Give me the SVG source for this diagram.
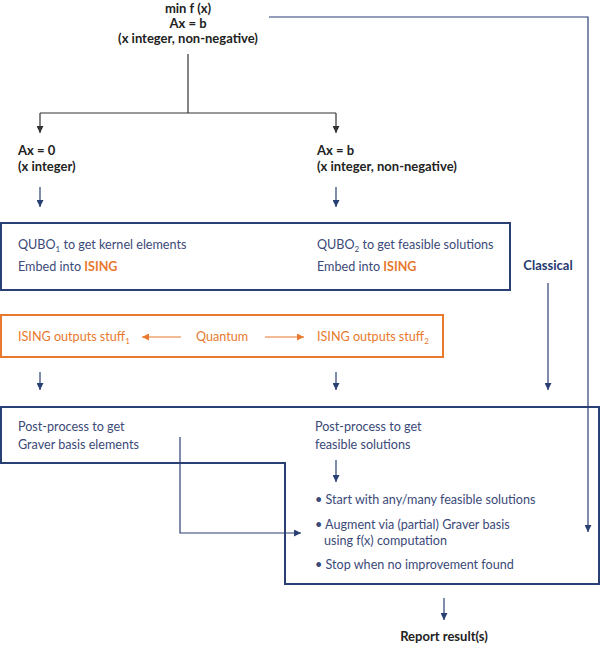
<svg xmlns="http://www.w3.org/2000/svg" width="600" height="648" viewBox="0 0 600 648">
<defs>
<style>
text{font-family:Lato,"Liberation Sans",sans-serif;font-size:12.6px}
.blk{fill:#222;font-weight:bold;font-size:13px}
.nv{fill:#3b4a78}
.nvb{fill:#253a6e;font-weight:bold;font-size:13px}
.or{fill:#e8792e}
.orb{fill:#e8792e;font-weight:bold}
.ln{fill:none;stroke:#2a3f73;stroke-width:1.2}
.lk{fill:none;stroke:#333;stroke-width:1.2}
.lo{fill:none;stroke:#e8792e;stroke-width:1.2}
.box{fill:none;stroke:#2a3f73;stroke-width:2}
.obox{fill:none;stroke:#e8792e;stroke-width:2}
</style>
<marker id="an" viewBox="0 0 10 10" refX="10" refY="5" markerWidth="7" markerHeight="7" markerUnits="userSpaceOnUse" orient="auto"><path d="M0,0L10,5L0,10z" fill="#2a3f73"/></marker>
<marker id="ak" viewBox="0 0 10 10" refX="10" refY="5" markerWidth="7" markerHeight="7" markerUnits="userSpaceOnUse" orient="auto"><path d="M0,0L10,5L0,10z" fill="#333"/></marker>
<marker id="ao" viewBox="0 0 10 10" refX="10" refY="5" markerWidth="7" markerHeight="7" markerUnits="userSpaceOnUse" orient="auto"><path d="M0,0L10,5L0,10z" fill="#e8792e"/></marker>
</defs>
<rect width="600" height="648" fill="#fff"/>

<g id="connectors">
<path class="lk" d="M188,54V113"/>
<path class="lk" d="M40,113H336"/>
<path class="lk" d="M40,113V133" marker-end="url(#ak)"/>
<path class="lk" d="M336,113V133" marker-end="url(#ak)"/>
<path class="ln" d="M269,17H588V532" marker-end="url(#an)"/>
<path class="ln" d="M40,187V207" marker-end="url(#an)"/>
<path class="ln" d="M336,187V207" marker-end="url(#an)"/>
<path class="ln" d="M548,283V390" marker-end="url(#an)"/>
<path class="lo" d="M181,337H142" marker-end="url(#ao)"/>
<path class="lo" d="M265,337H304" marker-end="url(#ao)"/>
<path class="ln" d="M40,372V390" marker-end="url(#an)"/>
<path class="ln" d="M336,372V390" marker-end="url(#an)"/>
<path class="ln" d="M180,437V533H301" marker-end="url(#an)"/>
<path class="ln" d="M336,460V482" marker-end="url(#an)"/>
<path class="ln" d="M444,598V620" marker-end="url(#an)"/>
</g>

<g id="problem">
<text class="blk" x="188" y="12.5" text-anchor="middle">min f (x)</text>
<text class="blk" x="188" y="27.5" text-anchor="middle">Ax = b</text>
<text class="blk" x="188" y="42.5" text-anchor="middle">(x integer, non-negative)</text>
</g>

<g id="kernel">
<text class="blk" x="18" y="155">Ax = 0</text>
<text class="blk" x="18" y="171">(x integer)</text>
</g>

<g id="feasible">
<text class="blk" x="317" y="155">Ax = b</text>
<text class="blk" x="317" y="171">(x integer, non-negative)</text>
</g>

<g id="qubo">
<rect class="box" x="1" y="223" width="509" height="67"/>
<text class="nv" x="18" y="249">QUBO<tspan font-size="8" dy="3">1</tspan><tspan dy="-3"> to get kernel elements</tspan></text>
<text class="nv" x="18" y="271">Embed into <tspan class="orb">ISING</tspan></text>
<text class="nv" x="317" y="249">QUBO<tspan font-size="8" dy="3">2</tspan><tspan dy="-3"> to get feasible solutions</tspan></text>
<text class="nv" x="317" y="271">Embed into <tspan class="orb">ISING</tspan></text>
</g>

<g id="classical">
<text class="nvb" x="548" y="270" text-anchor="middle">Classical</text>
</g>

<g id="ising">
<rect class="obox" x="1" y="315" width="442" height="42"/>
<text class="or" x="18" y="341">ISING outputs stuff<tspan font-size="8" dy="3">1</tspan></text>
<text class="or" x="196" y="341">Quantum</text>
<text class="or" x="317" y="341">ISING outputs stuff<tspan font-size="8" dy="3">2</tspan></text>
</g>

<g id="postprocess">
<path class="box" d="M1,407H599V584H285V463H1Z"/>
<text class="nv" x="18" y="431">Post-process to get</text>
<text class="nv" x="18" y="449">Graver basis elements</text>
<text class="nv" x="315" y="431">Post-process to get</text>
<text class="nv" x="315" y="449">feasible solutions</text>
<text class="nv" x="315" y="504">• Start with any/many feasible solutions</text>
<text class="nv" x="315" y="529">• Augment via (partial) Graver basis</text>
<text class="nv" x="324" y="545">using f(x) computation</text>
<text class="nv" x="315" y="569">• Stop when no improvement found</text>
</g>

<g id="report">
<text class="blk" x="444" y="641" text-anchor="middle">Report result(s)</text>
</g>
</svg>
